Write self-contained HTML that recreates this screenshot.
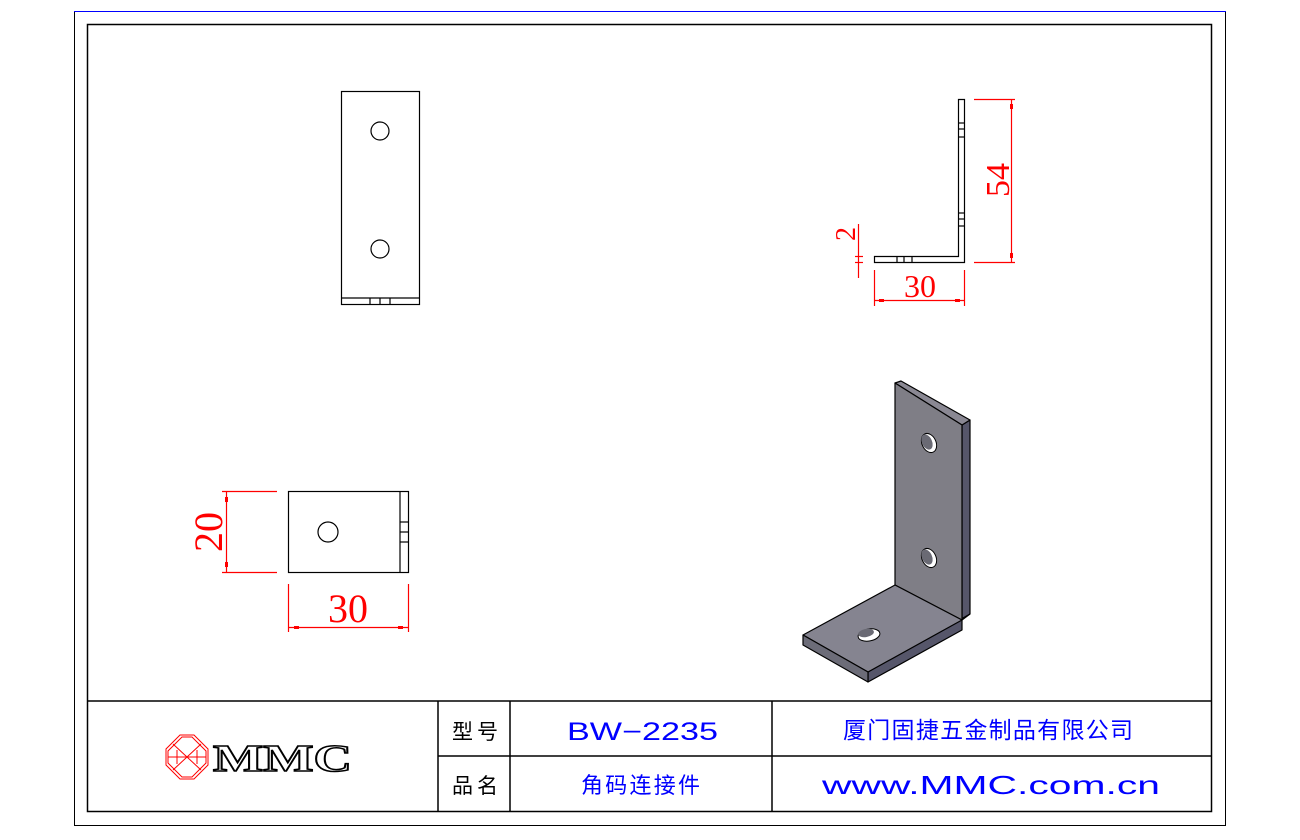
<!DOCTYPE html>
<html><head><meta charset="utf-8"><style>
html,body{margin:0;padding:0;background:#fff;}
svg{display:block;}
text{font-family:"Liberation Sans","Noto Sans CJK SC",sans-serif;}
.s{font-family:"Liberation Serif","Noto Serif CJK SC",serif;}
</style></head><body>
<svg width="1300" height="840" viewBox="0 0 1300 840" xmlns="http://www.w3.org/2000/svg">
<rect x="74.5" y="11.5" width="1151" height="814" fill="none" stroke="#000" stroke-width="1"/>
<line x1="74" y1="11.5" x2="1226" y2="11.5" stroke="#00f" stroke-width="1"/>
<rect x="87.5" y="24.5" width="1124" height="787" fill="none" stroke="#000" stroke-width="1.5"/>
<g stroke="#000" stroke-width="1.5" fill="none">
<line x1="87" y1="701" x2="1211" y2="701"/>
<line x1="438" y1="756" x2="1211" y2="756"/>
<line x1="438" y1="701" x2="438" y2="811"/>
<line x1="510" y1="701" x2="510" y2="811"/>
<line x1="772" y1="701" x2="772" y2="811"/>
</g>
<g stroke="#000" stroke-width="1.2" fill="none">
<rect x="341.5" y="91.5" width="78" height="213"/>
<line x1="341" y1="298" x2="419" y2="298"/>
<line x1="370" y1="298" x2="370" y2="304"/><line x1="380" y1="298" x2="380" y2="304"/><line x1="390" y1="298" x2="390" y2="304"/>
<circle cx="380" cy="131" r="9"/><circle cx="380" cy="249" r="9"/>
<rect x="288.5" y="491.5" width="120" height="81"/>
<line x1="400" y1="491" x2="400" y2="572"/>
<line x1="400" y1="522" x2="408" y2="522"/><line x1="400" y1="532" x2="408" y2="532"/><line x1="400" y1="542" x2="408" y2="542"/>
<circle cx="328" cy="532" r="10"/>
<path d="M958.5 99.5 H964.5 V262.5 H874.5 V256.5 H958.5 Z"/>
<line x1="958" y1="123" x2="964" y2="123"/><line x1="958" y1="129" x2="964" y2="129"/><line x1="958" y1="137" x2="964" y2="137"/>
<line x1="958" y1="213" x2="964" y2="213"/><line x1="958" y1="219" x2="964" y2="219"/><line x1="958" y1="226" x2="964" y2="226"/>
<line x1="897" y1="256" x2="897" y2="262"/><line x1="904" y1="256" x2="904" y2="262"/><line x1="912" y1="256" x2="912" y2="262"/>
</g>
<g stroke="#f00" stroke-width="1.2" fill="none">
<line x1="222" y1="491.5" x2="277" y2="491.5"/><line x1="222" y1="572.5" x2="277" y2="572.5"/>
<line x1="226.5" y1="491" x2="226.5" y2="572"/>
<line x1="288.5" y1="584" x2="288.5" y2="632"/><line x1="408.5" y1="584" x2="408.5" y2="632"/>
<line x1="288" y1="627.5" x2="408" y2="627.5"/>
<line x1="974" y1="99.5" x2="1015" y2="99.5"/><line x1="974" y1="262.5" x2="1015" y2="262.5"/>
<line x1="1011.5" y1="99" x2="1011.5" y2="262"/>
<line x1="874.5" y1="270" x2="874.5" y2="306"/><line x1="964.5" y1="270" x2="964.5" y2="306"/>
<line x1="874" y1="300.5" x2="964" y2="300.5"/>
<line x1="858.5" y1="224" x2="858.5" y2="278"/>
<line x1="855" y1="256.5" x2="863" y2="256.5"/><line x1="855" y1="262.5" x2="863" y2="262.5"/>
</g>
<g fill="#f00">
<rect x="294" y="626" width="5" height="3"/><rect x="398" y="626" width="5" height="3"/>
<rect x="225" y="497" width="3" height="5"/><rect x="225" y="562" width="3" height="5"/>
<rect x="1010" y="104" width="3" height="5"/><rect x="1010" y="253" width="3" height="5"/>
<rect x="879" y="299" width="5" height="3"/><rect x="955" y="299" width="5" height="3"/>
</g>
<text class="s" x="348" y="622" font-size="40" fill="#f00" text-anchor="middle">30</text>
<text class="s" transform="translate(222,532) rotate(-90)" font-size="40" fill="#f00" text-anchor="middle">20</text>
<text class="s" x="920" y="297" font-size="32" fill="#f00" text-anchor="middle">30</text>
<text class="s" transform="translate(1009,180) rotate(-90)" font-size="34" fill="#f00" text-anchor="middle">54</text>
<text class="s" transform="translate(855,234) rotate(-90)" font-size="28" fill="#f00" text-anchor="middle">2</text>
<g stroke="#000" stroke-width="1.2" stroke-linejoin="round">
<polygon points="962,425 970,420 970,614 868,672 868,682 962,630" fill="#56566a"/>
<polygon points="895,383 901,381 970,420 962,425" fill="#8a8893"/>
<polygon points="895,383 962,425 962,620 895,585" fill="#7f7e86"/>
<polygon points="803,635 895,585 962,620 868,672" fill="#858490"/>
<polygon points="803,635 868,672 868,682 803,645" fill="#6c6c78"/>
<line x1="962" y1="620" x2="970" y2="614"/>
</g>
<g stroke="#000" stroke-width="1" fill="#fff">
<ellipse cx="929" cy="443" rx="7" ry="10" transform="rotate(-25 929 443)"/>
<ellipse cx="929" cy="558" rx="7" ry="10" transform="rotate(-25 929 558)"/>
<ellipse cx="869" cy="635" rx="11" ry="6" transform="rotate(-10 869 635)"/>
</g>
<g fill="#6a6a74">
<ellipse cx="927" cy="442" rx="5" ry="8" transform="rotate(-25 927 442)"/>
<ellipse cx="927" cy="557" rx="5" ry="8" transform="rotate(-25 927 557)"/>
<ellipse cx="866" cy="633" rx="8" ry="4" transform="rotate(-10 866 633)"/>
</g>
<g stroke="#f00" stroke-width="1" fill="none">
<polygon points="180,735 194,735 208,749 208,765 194,779 180,779 166,765 166,749"/>
<polygon points="182,737 192,737 206,751 206,763 192,777 182,777 168,763 168,751"/>
<line x1="173" y1="744" x2="201" y2="770"/><line x1="201" y1="744" x2="173" y2="770"/>
<line x1="168" y1="757" x2="206" y2="757"/>
<line x1="177" y1="750" x2="177" y2="764"/><line x1="197" y1="750" x2="197" y2="764"/>
</g>
<text class="s" x="213" y="771" font-size="38" font-weight="bold" fill="#fff" stroke="#000" stroke-width="1.5" textLength="139" lengthAdjust="spacingAndGlyphs">MMC</text>
<text x="452" y="739" font-size="21" fill="#000" textLength="46">型号</text>
<text x="452" y="793" font-size="21" fill="#000" textLength="46">品名</text>
<text x="567" y="740" font-size="25" fill="#00f" textLength="151" lengthAdjust="spacingAndGlyphs">BW−2235</text>
<text x="581" y="793" font-size="22" fill="#00f" textLength="119">角码连接件</text>
<text x="843" y="738" font-size="23" fill="#00f" textLength="290">厦门固捷五金制品有限公司</text>
<text x="822" y="794" font-size="26" fill="#00f" textLength="338" lengthAdjust="spacingAndGlyphs">www.MMC.com.cn</text>
</svg>
</body></html>
